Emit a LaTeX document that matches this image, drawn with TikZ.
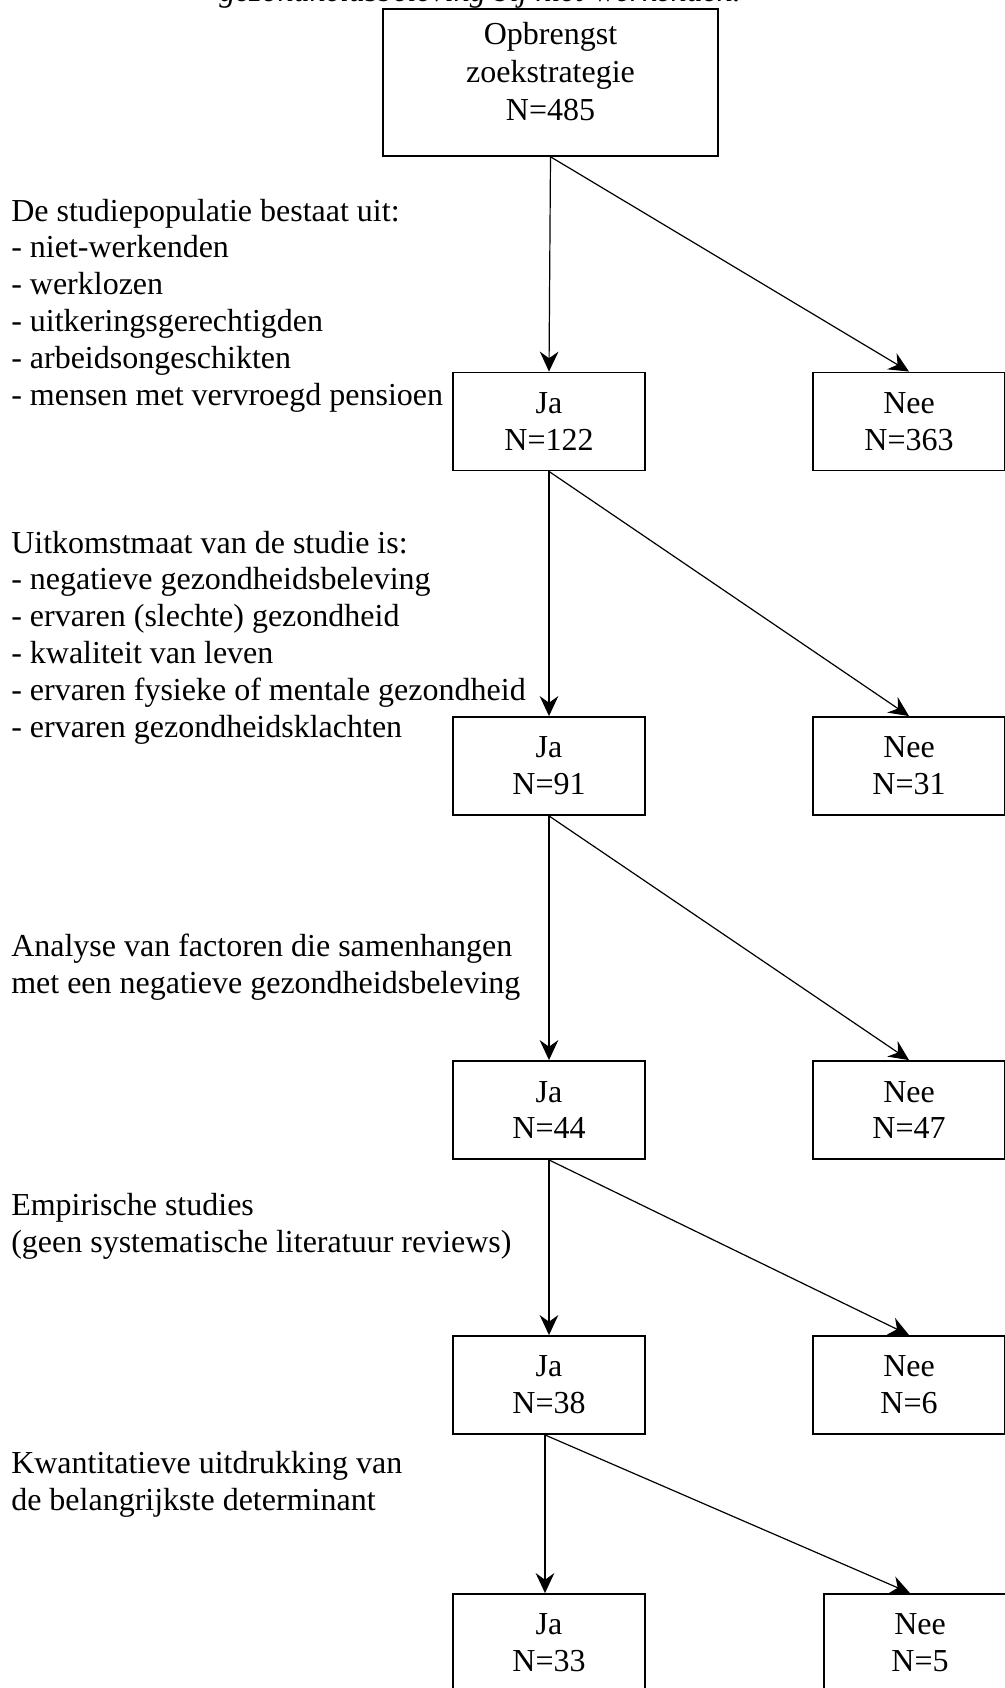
\documentclass[tikz,border=0pt]{standalone}
\usepackage{fontspec}
\setmainfont{Liberation Serif}
\usetikzlibrary{arrows.meta, positioning}

\begin{document}
\begin{tikzpicture}[x=0.75pt, y=-0.75pt,
  every node/.style={font=\fontsize{24}{27.6}\selectfont, align=center},
  box/.style={draw, line width=1.4pt, inner sep=0pt, minimum width=144pt, minimum height=73.5pt},
  note/.style={anchor=base west, align=left, inner sep=0pt},
  arr/.style={-{Stealth[length=15pt, width=14pt, inset=5pt]}, line width=0.9pt}]
\useasboundingbox (0,0) rectangle (1005,1688);
\clip (0,0) rectangle (1005,1688);
% afgesneden bijschrift bovenaan
\node[note, font=\fontsize{24}{27.6}\selectfont\itshape] (caption) at (219,2) {gezondheidsbeleving bij niet-werkenden.};
% startvak
\node[box, minimum width=251pt, minimum height=110pt] (start) at (550.5,82.5) {};
\node (starttxt) at ([yshift=8pt]start.center) {Opbrengst\\[1pt]zoekstrategie\\[1pt]N=485};
% rij 1
\node[box] (ja1) at (549,421.5) {Ja\\N=122};
\node[box] (nee1) at (909,421.5) {Nee\\N=363};
\node[note] (crit1) at (11,405) {De studiepopulatie bestaat uit:\\- niet-werkenden\\- werklozen\\- uitkeringsgerechtigden\\- arbeidsongeschikten\\- mensen met vervroegd pensioen};
% rij 2
\node[box] (ja2) at (549,766) {Ja\\N=91};
\node[box] (nee2) at (909,766) {Nee\\N=31};
\node[note] (crit2) at (11,737) {Uitkomstmaat van de studie is:\\- negatieve gezondheidsbeleving\\- ervaren (slechte) gezondheid\\- kwaliteit van leven\\- ervaren fysieke of mentale gezondheid\\- ervaren gezondheidsklachten};
% rij 3
\node[box] (ja3) at (549,1110) {Ja\\N=44};
\node[box] (nee3) at (909,1110) {Nee\\N=47};
\node[note] (crit3) at (11,993) {Analyse van factoren die samenhangen\\met een negatieve gezondheidsbeleving};
% rij 4
\node[box] (ja4) at (549,1385) {Ja\\N=38};
\node[box] (nee4) at (909,1385) {Nee\\N=6};
\node[note] (crit4) at (11,1252) {Empirische studies\\(geen systematische literatuur reviews)};
% rij 5
\node[box] (ja5) at (549,1643) {Ja\\N=33};
\node[box] (nee5) at (920,1643) {Nee\\N=5};
\node[note] (crit5) at (11,1510) {Kwantitatieve uitdrukking van\\de belangrijkste determinant};
% pijlen
\draw[arr] (start.south) -- (ja1.north);
\draw[arr] (start.south) -- (nee1.north);
\draw[arr] (ja1.south) -- (ja2.north);
\draw[arr] (ja1.south) -- (nee2.north);
\draw[arr] (ja2.south) -- (ja3.north);
\draw[arr] (ja2.south) -- (nee3.north);
\draw[arr] (ja3.south) -- (ja4.north);
\draw[arr] (ja3.south) -- (nee4.north);
\draw[arr] ([xshift=-3pt]ja4.south) -- ([xshift=-3pt]ja5.north);
\draw[arr] ([xshift=-3pt]ja4.south) -- ([xshift=-7.5pt]nee5.north);
\end{tikzpicture}
\end{document}
